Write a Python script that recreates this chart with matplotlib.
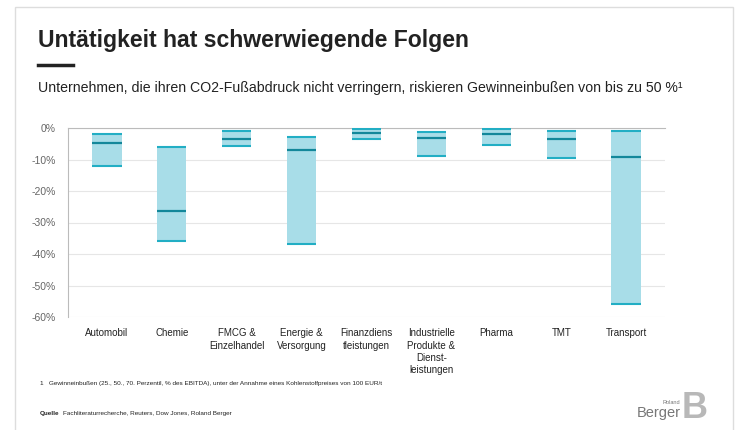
import matplotlib.pyplot as plt
from matplotlib.patches import Rectangle

plt.rcParams['font.family'] = ['Liberation Sans', 'DejaVu Sans']

categories = ["Automobil", "Chemie", "FMCG &\nEinzelhandel", "Energie &\nVersorgung",
              "Finanzdiens\ntleistungen", "Industrielle\nProdukte &\nDienst-\nleistungen",
              "Pharma", "TMT", "Transport"]
p25 = [-2.0, -5.9, -0.8, -3.0, -0.2, -1.3, -0.2, -0.9, -0.9]
p50 = [-4.9, -26.2, -3.6, -7.0, -1.5, -3.1, -2.0, -3.4, -9.1]
p70 = [-12.1, -35.9, -5.6, -36.8, -3.6, -8.9, -5.5, -9.6, -55.9]
yticks = [0, -10, -20, -30, -40, -50, -60]

fill_c = "#a8dde8"
line_c = "#22aec4"
mid_c = "#13879a"
w = 0.45

fig = plt.figure(figsize=(7.5, 4.3), dpi=100)
fig.patches.append(Rectangle((15/750, -0.05), (733-15)/750, 1 - 7/430 + 0.05,
                             transform=fig.transFigure, fill=False,
                             edgecolor="#dddddd", linewidth=1))

ax = fig.add_axes([68/750, 1-317/430, (665-68)/750, (317-128)/430])
x = list(range(len(categories)))
ax.bar(x, [a - b for a, b in zip(p25, p70)], bottom=p70, width=w, color=fill_c, zorder=2)
xl = [i - w/2 for i in x]
xr = [i + w/2 for i in x]
ax.hlines(p25, xl, xr, color=line_c, linewidth=1.5, zorder=3)
ax.hlines(p70, xl, xr, color=line_c, linewidth=1.5, zorder=3)
ax.hlines(p50, xl, xr, color=mid_c, linewidth=1.6, zorder=3)

ax.set_xlim(-0.6, 8.6)
ax.set_ylim(-60, 0)
ax.set_yticks(yticks)
ax.set_yticklabels([f"{v}%" for v in yticks], color="#666666", fontsize=7.5)
ax.set_xticks(x)
ax.set_xticklabels(categories, fontsize=7, color="#222222", linespacing=1.3, va="top")
ax.tick_params(axis="both", length=0)
ax.tick_params(axis="x", pad=8)
ax.tick_params(axis="y", pad=9)
ax.grid(axis="y", color="#e6e6e6", linewidth=0.8, zorder=0)
for s in ["right", "bottom"]:
    ax.spines[s].set_visible(False)
ax.spines["top"].set_color("#bbbbbb")
ax.spines["left"].set_color("#bbbbbb")
ax.spines["top"].set_linewidth(0.8)
ax.spines["left"].set_linewidth(0.8)

fig.text(38/750, 1-40/430, "Untätigkeit hat schwerwiegende Folgen", fontsize=16.6,
         fontweight="bold", color="#222222", va="center")
fig.add_artist(plt.Line2D([38/750, 73/750], [1-65/430, 1-65/430], color="#222222",
                          linewidth=2.5, transform=fig.transFigure))
fig.text(38/750, 1-88/430,
         "Unternehmen, die ihren CO2-Fußabdruck nicht verringern, riskieren Gewinneinbußen von bis zu 50 %¹",
         fontsize=10.2, color="#222222", va="center")
fig.text(40/750, 1-383/430,
         "1   Gewinneinbußen (25., 50., 70. Perzentil, % des EBITDA), unter der Annahme eines Kohlenstoffpreises von 100 EUR/t",
         fontsize=4.6, color="#222222", va="center")
fig.text(40/750, 1-413/430, "Quelle", fontsize=4.6, fontweight="bold", color="#222222", va="center")
fig.text(63/750, 1-413/430, "Fachliteraturrecherche, Reuters, Dow Jones, Roland Berger",
         fontsize=4.6, color="#222222", va="center")

# logo
fig.text(680/750, 1-403/430, "Roland", fontsize=4, color="#777777", ha="right", va="center")
fig.text(681/750, 1-413/430, "Berger", fontsize=10.5, color="#777777", ha="right", va="center")
fig.text(682/750, 1-409/430, "B", fontsize=26, fontweight="bold", color="#b8b8b8", ha="left", va="center")

fig.savefig("out.png", dpi=100)
